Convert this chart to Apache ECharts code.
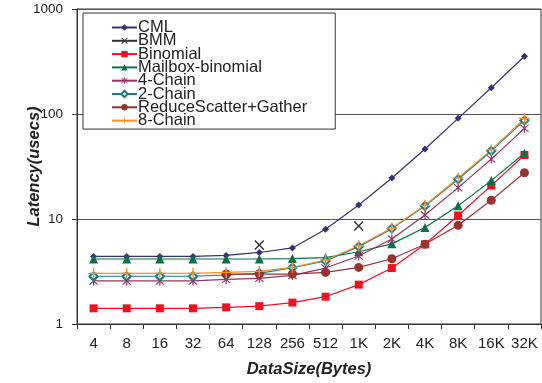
<!DOCTYPE html>
<html><head><meta charset="utf-8">
<script src="https://cdn.jsdelivr.net/npm/echarts@6/dist/echarts.min.js"></script>
<style>html,body{margin:0;padding:0;background:#fff}#c{width:542px;height:383px}</style>
</head><body><div id="c"></div>
<script>
const categories = ['4','8','16','32','64','128','256','512','1K','2K','4K','8K','16K','32K'];
const cml      = [4.4, 4.4, 4.4, 4.4, 4.5, 4.8, 5.3, 8.0, 13.6, 24.6, 46.4, 90.9, 178, 355];
const bmm      = [null, null, null, null, null, 5.66, null, null, 8.6, null, null, null, null, null];
const binomial = [1.41, 1.41, 1.41, 1.41, 1.44, 1.48, 1.6, 1.82, 2.37, 3.41, 5.74, 10.8, 20.8, 40.7];
const mailbox  = [4.16, 4.16, 4.16, 4.16, 4.16, 4.16, 4.2, 4.28, 4.88, 5.8, 8.3, 13.4, 23.2, 42.3];
const chain4   = [2.57, 2.57, 2.57, 2.57, 2.66, 2.72, 2.9, 3.41, 4.44, 6.45, 10.9, 19.9, 37.2, 73];
const chain2   = [2.85, 2.85, 2.85, 2.85, 2.93, 3.04, 3.44, 3.98, 5.45, 8.1, 13.3, 23.9, 44.5, 86.9];
const rsg      = [null, null, null, null, 2.99, 2.99, 2.99, 3.1, 3.46, 4.18, 5.74, 8.7, 15.1, 27.6];
const chain8   = [3.04, 3.04, 3.04, 3.04, 3.1, 3.17, 3.46, 4.07, 5.56, 8.2, 13.5, 24.6, 45.5, 90.7];
const yTicks = [1, 10, 100, 1000];

const X_PATH = 'path://M0,1L1,0L5,4L9,0L10,1L6,5L10,9L9,10L5,6L1,10L0,9L4,5Z';
const PLUS_PATH = 'path://M4.4,0H5.6V4.4H10V5.6H5.6V10H4.4V5.6H0V4.4H4.4Z';
const STAR_PATH = 'path://M0.6,1.4L1.4,0.6L4.4,3.6V0H5.6V3.6L8.6,0.6L9.4,1.4L6.2,4.6V5.4L9.4,8.6L8.6,9.4L5.6,6.4V10H4.4V6.4L1.4,9.4L0.6,8.6L3.8,5.4V4.6Z';

function mk(name, data, color, symbol, size, extra) {
  return Object.assign({
    name, type: 'line', data, symbol, symbolSize: size,
    connectNulls: false,
    lineStyle: { color, width: 1.2 },
    itemStyle: { color },
    emphasis: { disabled: true },
    z: 3
  }, extra || {});
}

const chart = echarts.init(document.getElementById('c'), null, { renderer: 'canvas' });
chart.setOption({
  animation: false,
  textStyle: { fontFamily: 'Liberation Sans, Arial, sans-serif' },
  grid: { left: 77, right: 1, top: 9, bottom: 58, show: true, borderColor: '#333', borderWidth: 1, containLabel: false },
  legend: {
    orient: 'vertical', left: 83, top: 13,
    padding: [6, 28, 0, 28],
    borderColor: '#333', borderWidth: 1, backgroundColor: '#fff',
    itemWidth: 25, itemHeight: 8, itemGap: -3.7,
    textStyle: { fontSize: 16.5, color: '#222', padding: [0, 0, 0, -4] },
    data: ['CML','BMM','Binomial','Mailbox-binomial','4-Chain','2-Chain','ReduceScatter+Gather','8-Chain']
  },
  xAxis: {
    type: 'category', data: categories, boundaryGap: true,
    name: 'DataSize(Bytes)', nameLocation: 'middle', nameGap: 37, nameMoveOverlap: false,
    nameTextStyle: { fontSize: 16.5, fontWeight: 'bold', fontStyle: 'italic', color: '#222' },
    axisLine: { lineStyle: { color: '#333', width: 1 } },
    axisTick: { show: true, length: 5, lineStyle: { color: '#333' } },
    axisLabel: { fontSize: 15, color: '#222', margin: 12, interval: 0 },
    splitLine: { show: false }
  },
  yAxis: {
    type: 'log', logBase: 10, min: 1, max: 1000,
    name: 'Latency(usecs)', nameLocation: 'middle', nameGap: 34, nameMoveOverlap: false,
    nameTextStyle: { fontSize: 16.5, fontWeight: 'bold', fontStyle: 'italic', color: '#222' },
    axisLine: { show: true, lineStyle: { color: '#333', width: 1 } },
    axisTick: { show: true, length: 5, lineStyle: { color: '#333' } },
    axisLabel: { fontSize: 13.5, color: '#222', margin: 14,
      formatter: v => (yTicks.indexOf(Math.round(v)) >= 0 ? String(Math.round(v)) : '') },
    splitLine: { show: true, lineStyle: { color: '#555', width: 1 } },
    minorTick: { show: false }
  },
  series: [
    mk('CML', cml, '#333377', 'diamond', 7),
    mk('BMM', bmm, '#333333', X_PATH, 10, { lineStyle: { color: '#333333', width: 1 } }),
    mk('Binomial', binomial, '#ee1122', 'rect', 8),
    mk('Mailbox-binomial', mailbox, '#0a7048', 'triangle', 9),
    mk('4-Chain', chain4, '#993366', STAR_PATH, 9),
    mk('2-Chain', chain2, '#11808a', 'emptyDiamond', 8, { itemStyle: { color: '#11808a', borderWidth: 1.5 } }),
    mk('ReduceScatter+Gather', rsg, '#993333', 'circle', 9),
    mk('8-Chain', chain8, '#ff8c22', PLUS_PATH, 11)
  ]
});
</script></body></html>
